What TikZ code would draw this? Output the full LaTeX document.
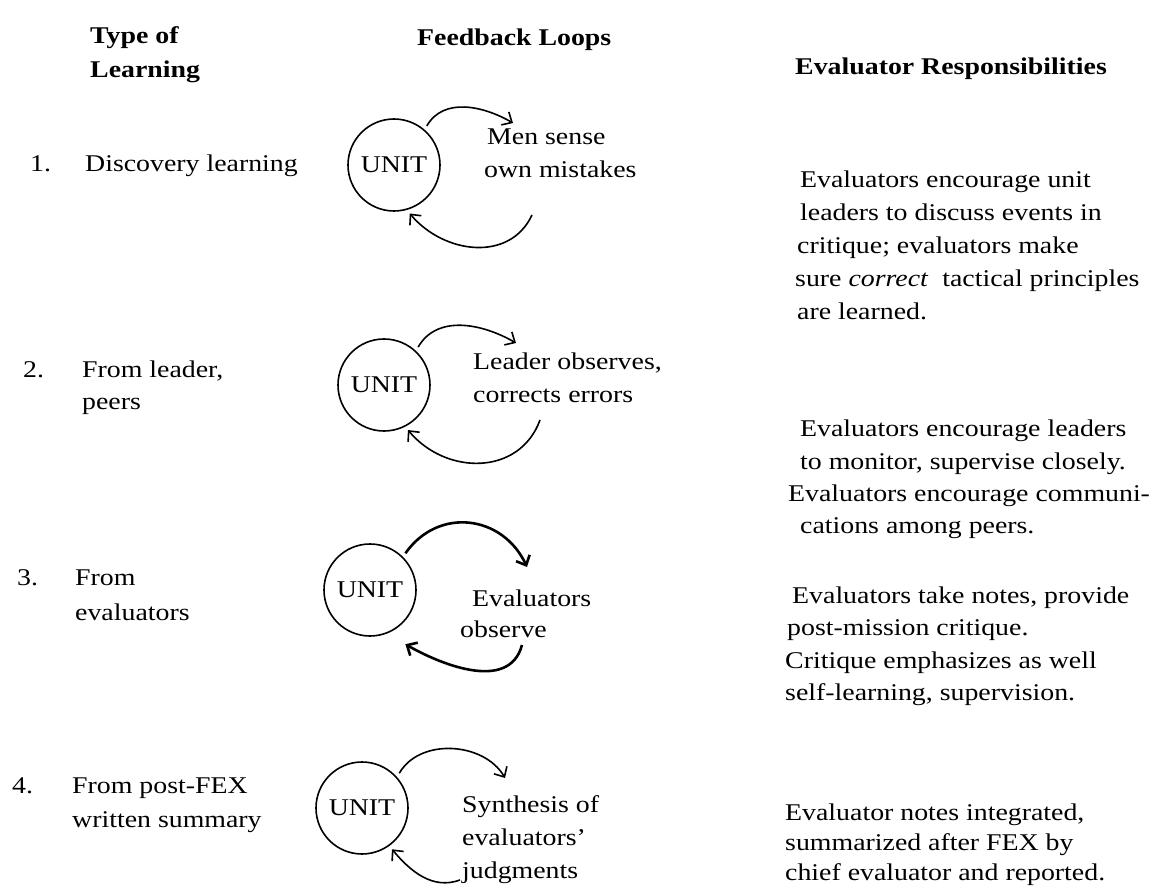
\documentclass[tikz,border=0pt]{standalone}
\usepackage{fontspec}
\setmainfont[FakeStretch=1.16]{Liberation Serif}
\usetikzlibrary{positioning,arrows.meta}

\begin{document}
\begin{tikzpicture}[x=1pt,y=1pt,every node/.style={txt},
				txt/.style={anchor=base west,inner sep=0pt,font=\fontsize{24}{33}\selectfont},
				hd/.style={txt,font=\fontsize{24}{33}\selectfont\bfseries},
				unit/.style={circle,draw,line width=1.6pt,minimum size=92pt,inner sep=0pt,outer sep=5pt,anchor=center},
				fbarc/.style={line width=1.6pt,-{Straight Barb[length=8pt,width=15pt]}}]
				\fill[white] (0,0) rectangle (1165,-890);
				\useasboundingbox (0,0) rectangle (1165,-890);
				% column heads
				\node[hd] (hdtype)  at (90,-44)                     {Type of};
				\node[hd] (hdlearn) at ([yshift=-34pt]hdtype.base west) {Learning};
				\node[hd] (hdloops) at (417,-46)                    {Feedback Loops};
				\node[hd] (hdresp)  at (795,-75)                    {Evaluator Responsibilities};
				% 1
				\node (num1)  at (30,-172)  {1.};
				\node (type1) at (85,-172)  {Discovery learning};
				\node[unit] (unit1) at (394,-165) {UNIT};
				\node (fb1a)  at (487,-145) {Men sense};
				\node (fb1b)  at (484,-178) {own mistakes};
				\node (ev1a)  at (800,-188) {Evaluators encourage unit};
				\node (ev1b)  at ([yshift=-33pt]ev1a.base west) {leaders to discuss events in};
				\node (ev1c)  at ([xshift=-3pt,yshift=-33pt]ev1b.base west) {critique; evaluators make};
				\node (ev1d)  at ([xshift=-2pt,yshift=-33pt]ev1c.base west) {sure \textit{correct}\ \ tactical principles};
				\node (ev1e)  at ([xshift=2pt,yshift=-33pt]ev1d.base west) {are learned.};
				\coordinate (tip1) at (513,-123);
				\coordinate (ret1) at (532,-215);
				\draw[fbarc] (unit1.50) to[out=60,in=150] (tip1);
				\draw[fbarc] (ret1) to[out=-115,in=-50,looseness=1.1] (unit1.-72);
				% 2
				\node (num2)  at (23,-378)  {2.};
				\node (type2a) at (82,-378) {From leader,};
				\node (type2b) at ([yshift=-32pt]type2a.base west) {peers};
				\node[unit] (unit2) at (384,-385) {UNIT};
				\node (fb2a)  at (473,-370) {Leader observes,};
				\node (fb2b)  at ([yshift=-33pt]fb2a.base west) {corrects errors};
				\node (ev2a)  at (800,-437) {Evaluators encourage leaders};
				\node (ev2b)  at ([yshift=-32pt]ev2a.base west) {to monitor, supervise closely.};
				\node (ev2c)  at ([xshift=-12pt,yshift=-32pt]ev2b.base west) {Evaluators encourage communi-};
				\node (ev2d)  at ([xshift=12pt,yshift=-32pt]ev2c.base west) {cations among peers.};
				\coordinate (tip2) at (516,-343);
				\coordinate (ret2) at (540,-420);
				\draw[fbarc] (unit2.48) to[out=60,in=150] (tip2);
				\draw[fbarc] (ret2) to[out=-110,in=-50,looseness=1.15] (unit2.-62);
				% 3
				\node (num3)  at (17,-585)  {3.};
				\node (type3a) at (75,-585) {From};
				\node (type3b) at ([yshift=-35pt]type3a.base west) {evaluators};
				\node[unit] (unit3) at (370,-590) {UNIT};
				\node (fb3a)  at (472,-606) {Evaluators};
				\node (fb3b)  at ([xshift=-12pt,yshift=-31pt]fb3a.base west) {observe};
				\node (ev3a)  at (792,-603) {Evaluators take notes, provide};
				\node (ev3b)  at ([xshift=-5pt,yshift=-32pt]ev3a.base west) {post-mission critique.};
				\node (ev3c)  at ([xshift=-2pt,yshift=-33pt]ev3b.base west) {Critique emphasizes as well};
				\node (ev3d)  at ([yshift=-32pt]ev3c.base west) {self-learning, supervision.};
				\coordinate (tip3) at (527,-567);
				\coordinate (ret3) at (522,-645);
				\draw[fbarc,line width=2.6pt] (unit3.46) to[out=55,in=115,looseness=1.2] (tip3);
				\draw[fbarc,line width=2.6pt,shorten >=16pt] (ret3) to[out=-105,in=-30] (unit3.-65);
				% 4
				\node (num4)  at (12,-793)  {4.};
				\node (type4a) at (72,-793) {From post-FEX};
				\node (type4b) at ([yshift=-34pt]type4a.base west) {written summary};
				\node[unit] (unit4) at (362,-808) {UNIT};
				\node (fb4a)  at (462,-812) {Synthesis of};
				\node (fb4b)  at ([yshift=-33pt]fb4a.base west) {evaluators'};
				\node (fb4c)  at ([yshift=-33pt]fb4b.base west) {judgments};
				\node (ev4a)  at (785,-820) {Evaluator notes integrated,};
				\node (ev4b)  at ([yshift=-30pt]ev4a.base west) {summarized after FEX by};
				\node (ev4c)  at ([yshift=-30pt]ev4b.base west) {chief evaluator and reported.};
				\coordinate (tip4) at (505,-778);
				\coordinate (ret4) at (460,-880);
				\draw[fbarc] (unit4.43) to[out=60,in=120] (tip4);
				\draw[fbarc] (ret4) to[out=200,in=-50] (unit4.-54);
			\end{tikzpicture}
\end{document}
